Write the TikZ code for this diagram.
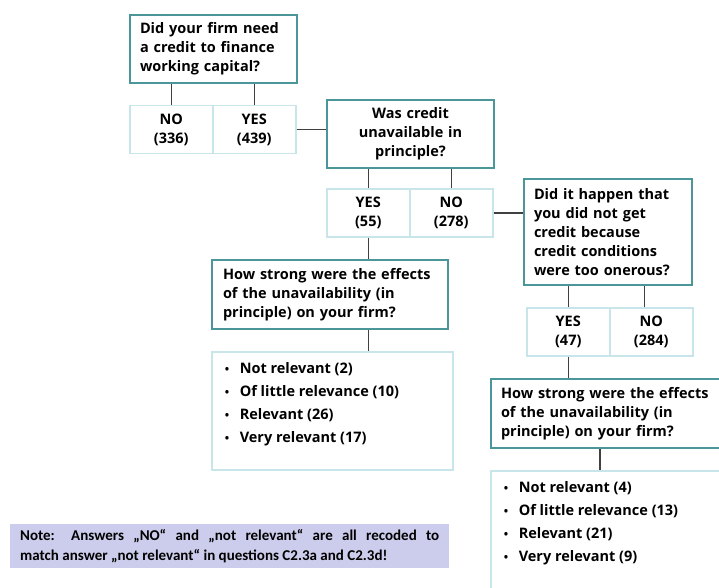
\documentclass[tikz,border=0pt]{standalone}
\usepackage{fontspec}
\setmainfont{Open Sans}
\newfontfamily\notefont{Carlito}
\usetikzlibrary{positioning}

\definecolor{qteal}{RGB}{74,150,152}
\definecolor{alight}{RGB}{200,230,234}
\definecolor{notefill}{RGB}{204,204,236}
\definecolor{linkgray}{RGB}{64,64,64}

\newcommand{\qfont}{\bfseries\fontsize{14.5}{19}\selectfont}
\newcommand{\itm}[1]{\makebox[15pt][l]{\scalebox{0.8}{\textbullet}}#1\\}
\newcommand{\answerlist}[1]{\begin{minipage}[t][96pt][t]{215pt}\qfont\fontsize{14.5}{23}\selectfont\raggedright #1\par\end{minipage}}

\tikzset{
    qbox/.style={draw=qteal, line width=2pt, font=\qfont, anchor=north west,
        inner xsep=10pt, inner ysep=0pt, align=left},
    abox/.style={draw=alight, line width=1.5pt, font=\qfont, anchor=north west,
        minimum width=83pt, minimum height=48pt, inner sep=0pt, align=center},
    listbox/.style={draw=alight, line width=1.5pt, anchor=north west,
        inner xsep=13pt, inner ysep=11pt},
    link/.style={draw=linkgray, line width=1.5pt}
}

\begin{document}
\begin{tikzpicture}[x=1pt, y=-1pt]
    \useasboundingbox (0,0) rectangle (719,588);
    \clip (0,0) rectangle (719,588);

    % First question and its answers
    \node[qbox, text width=147pt, minimum height=68pt] (q1) at (129,14)
        {Did your firm need\\a credit to finance\\working capital?};
    \node[abox] (no1) at (129,105) {NO\\(336)};
    \node[abox] (yes1) at (212,105) {YES\\(439)};

    % Credit unavailable in principle
    \node[qbox, text width=147pt, minimum height=68pt, align=center] (q2) at (326,99)
        {Was credit\\unavailable in\\principle?};
    \node[abox] (yes2) at (326,188) {YES\\(55)};
    \node[abox] (no2) at (409,188) {NO\\(278)};

    % Onerous credit conditions
    \node[qbox, text width=148pt, minimum height=106pt] (q3) at (523,178)
        {Did it happen that\\you did not get\\credit because\\credit conditions\\were too onerous?};
    \node[abox] (yes3) at (526,307) {YES\\(47)};
    \node[abox] (no3) at (609,307) {NO\\(284)};

    % Effects, left branch
    \node[qbox, text width=214pt, minimum height=69pt, inner xsep=11pt] (q4) at (211,259)
        {How strong were the effects\\of the unavailability (in\\principle) on your firm?};
    \node[listbox] (list1) at (211,351)
        {\answerlist{\itm{Not relevant (2)}\itm{Of little relevance (10)}\itm{Relevant (26)}\itm{Very relevant (17)}}};

    % Effects, right branch
    \node[qbox, text width=220pt, minimum height=69pt] (q5) at (490,378)
        {How strong were the effects\\of the unavailability (in\\principle) on your firm?};
    \node[listbox] (list2) at (490,470)
        {\answerlist{\itm{Not relevant (4)}\itm{Of little relevance (13)}\itm{Relevant (21)}\itm{Very relevant (9)}}};

    % Note
    \node[fill=notefill, anchor=north west, text width=419pt, inner xsep=10pt, inner ysep=5pt,
        align=justify, font=\notefont\bfseries\fontsize{15}{20}\selectfont] (note) at (10,524)
        {Note: Answers „NO“ and „not relevant“ are all recoded to\linebreak match answer „not relevant“ in questions C2.3a and C2.3d!};

    % Connectors
    \draw[link] (no1.north) -- (no1.north |- q1.south);
    \draw[link] (yes1.north) -- (yes1.north |- q1.south);
    \draw[link] (yes1.east) -- (yes1.east -| q2.west);
    \draw[link] (yes2.north) -- (yes2.north |- q2.south);
    \draw[link] (no2.north) -- (no2.north |- q2.south);
    \draw[link] (no2.east) -- (no2.east -| q3.west);
    \draw[link] (yes3.north) -- (yes3.north |- q3.south);
    \draw[link] ([xshift=-7pt]no3.north) -- ([xshift=-7pt]no3.north |- q3.south);
    \draw[link] (yes2.south) -- (yes2.south |- q4.north);
    \draw[link] (list1.north -| yes2.south) -- (yes2.south |- q4.south);
    \draw[link] (yes3.south) -- (yes3.south |- q5.north);
    \draw[link] ([xshift=110pt]q5.south west) -- ([xshift=110pt]list2.north west);
\end{tikzpicture}
\end{document}
